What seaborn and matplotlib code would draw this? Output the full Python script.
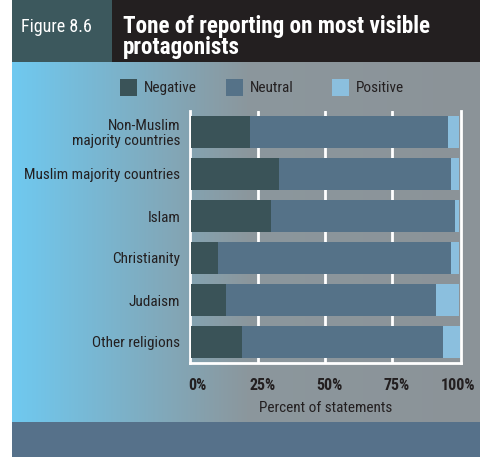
import numpy as np
import pandas as pd
import matplotlib
matplotlib.use("Agg")
import matplotlib.pyplot as plt
from matplotlib.patches import Rectangle
from matplotlib.colors import LinearSegmentedColormap
from matplotlib.transforms import ScaledTranslation
import seaborn as sns

categories = ["Non-Muslim\nmajority countries", "Muslim majority countries", "Islam",
              "Christianity", "Judaism", "Other religions"]
negative = [22, 33, 30, 10, 13, 19]
neutral = [74, 64, 68.5, 87, 78.5, 75]
positive = [4, 3, 1.5, 3, 8.5, 6.5]
series_names = ["Negative", "Neutral", "Positive"]
xticks = [0, 25, 50, 75, 100]
xtick_labels = ["0%", "25%", "50%", "75%", "100%"]

sns.set_theme(style="white")
FONT = ["Roboto Condensed", "DejaVu Sans"]
plt.rcParams['font.family'] = FONT
TXT = "#231f20"

W, H = 481, 457
fig = plt.figure(figsize=(W / 100, H / 100), dpi=100)
fig.patch.set_facecolor("white")

def fx(x): return x / W
def fy(y): return 1 - y / H

# gradient panel
bg = fig.add_axes([fx(12), fy(422), fx(469), (422 - 62) / H])
cmap = LinearSegmentedColormap.from_list("g", [(0, "#6fc9f0"), (0.5, "#8b979d"), (1, "#8c9398")])
grad = np.linspace(0, 1, 256).reshape(1, -1)
bg.imshow(grad, aspect="auto", cmap=cmap, extent=[0, 1, 0, 1])
bg.set_axis_off()

# title bars and bottom band
fig.patches.append(Rectangle((fx(12), fy(62)), fx(100), 62 / H, transform=fig.transFigure,
                             facecolor="#3c585d", edgecolor="none", zorder=0))
fig.patches.append(Rectangle((fx(112), fy(62)), fx(369), 62 / H, transform=fig.transFigure,
                             facecolor="#231f20", edgecolor="none", zorder=0))
fig.patches.append(Rectangle((fx(12), 0), fx(469), (457 - 422) / H, transform=fig.transFigure,
                             facecolor="#56718a", edgecolor="none", zorder=0))

fig.text(fx(21), fy(27), "Figure 8.6", color="white", fontsize=13, va="center", ha="left")
fig.text(fx(123), fy(37), "Tone of reporting on most visible\nprotagonists", color="white",
         fontsize=16.7, fontweight="bold", va="center", ha="left", linespacing=0.88)

# main axes
ax = fig.add_axes([fx(190), fy(363), fx(271), (363 - 111) / H])
ax.set_facecolor("none")

df = pd.DataFrame({"cat": categories, "neg": negative, "neu": neutral, "pos": positive})
df["c2"] = df["neg"] + df["neu"]
df["c3"] = df["c2"] + df["pos"]

colors = {"Negative": "#3a5358", "Neutral": "#557288", "Positive": "#8bbfde"}
sns.barplot(data=df, x="c3", y="cat", orient="h", color=colors["Positive"], width=0.74,
            saturation=1, ax=ax)
sns.barplot(data=df, x="c2", y="cat", orient="h", color=colors["Neutral"], width=0.74,
            saturation=1, ax=ax)
sns.barplot(data=df, x="neg", y="cat", orient="h", color=colors["Negative"], width=0.74,
            saturation=1, ax=ax)
for p in ax.patches:
    p.set_edgecolor("none")
    p.set_zorder(3)

ax.set_xlim(-0.4, 100.9)
ax.set_ylim(5.5, -0.5)
for xv in [25, 50, 75]:
    ax.axvline(xv, color="white", lw=2, zorder=1)
for s in ["left", "bottom", "right"]:
    ax.spines[s].set_visible(True)
    ax.spines[s].set_color("white")
    ax.spines[s].set_linewidth(2)
ax.spines["top"].set_visible(False)

ax.set_xticks(xticks)
ax.set_xticklabels(xtick_labels, fontweight="bold", fontsize=11.5, color=TXT)
ax.tick_params(axis="both", length=0)
ax.tick_params(axis="x", pad=10.5)
ax.tick_params(axis="y", pad=7)
shifts = [6, 5, 5, 5, 0]
for t, dx in zip(ax.get_xticklabels(), shifts):
    t.set_transform(t.get_transform() + ScaledTranslation(dx / 100, 0, fig.dpi_scale_trans))
for t in ax.get_yticklabels():
    t.set_fontsize(11)
    t.set_color(TXT)
    t.set_linespacing(1.08)
ax.set_ylabel("")
ax.set_xlabel("Percent of statements", fontsize=11, color=TXT, labelpad=6)

# legend
leg_x = [120, 226, 332]
for name, lx in zip(series_names, leg_x):
    fig.patches.append(Rectangle((fx(lx), fy(96)), fx(17), 17 / H, transform=fig.transFigure,
                                 facecolor=colors[name], edgecolor="none"))
    fig.text(fx(lx + 24), fy(88), name, fontsize=11, color=TXT, va="center", ha="left")

fig.savefig("out.png", dpi=100)
